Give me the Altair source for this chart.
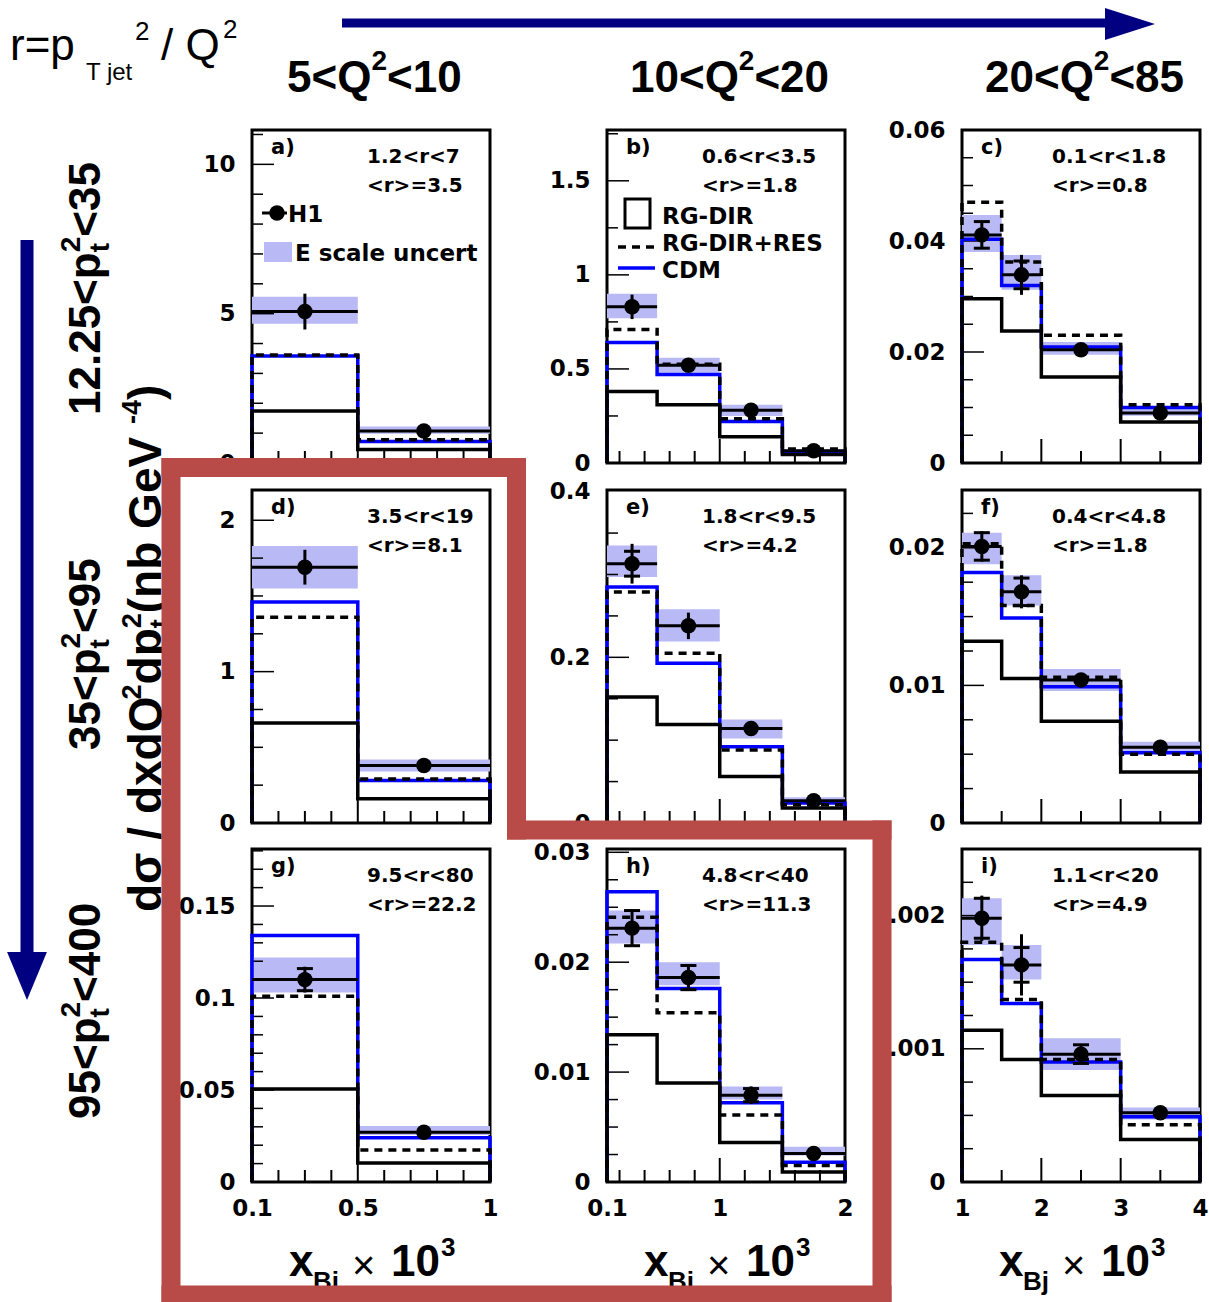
import altair as alt
import pandas as pd

# ------------------------------------------------------------------ data
# x_Bj x 10^3 bin edges, one list per Q^2 column
edges_q1 = [0.1, 0.5, 1.0]
edges_q2 = [0.1, 0.5, 1.0, 1.5, 2.0]
edges_q3 = [1.0, 1.5, 2.0, 3.0, 4.0]

# header / row texts
q2_lo = ["5", "10", "20"]
q2_hi = ["10", "20", "85"]
pt2_lo = ["12.25", "35", "95"]
pt2_hi = ["35", "95", "400"]
letters = ["a)", "b)", "c)", "d)", "e)", "f)", "g)", "h)", "i)"]
r_ranges = ["1.2<r<7", "0.6<r<3.5", "0.1<r<1.8", "3.5<r<19", "1.8<r<9.5",
            "0.4<r<4.8", "9.5<r<80", "4.8<r<40", "1.1<r<20"]
r_means = ["<r>=3.5", "<r>=1.8", "<r>=0.8", "<r>=8.1", "<r>=4.2",
           "<r>=1.8", "<r>=22.2", "<r>=11.3", "<r>=4.9"]

# panel a
a_h1 = [5.07, 1.07]
a_err = [0.60, 0.08]
a_stat = [0.0, 0.0]
a_blo = [4.66, 0.98]
a_bhi = [5.57, 1.22]
a_dir = [1.74, 0.45]
a_res = [3.62, 0.78]
a_cdm = [3.58, 0.72]
a_ylab = [0, 5, 10]
a_ymaj = [5, 10]
a_ymin = [1, 2, 3, 4, 6, 7, 8, 9, 11]
# panel b
b_h1 = [0.83, 0.52, 0.28, 0.065]
b_err = [0.065, 0.02, 0.02, 0.01]
b_stat = [0.0, 0.0, 0.0, 0.0]
b_blo = [0.77, 0.48, 0.25, 0.055]
b_bhi = [0.90, 0.56, 0.31, 0.075]
b_dir = [0.38, 0.31, 0.14, 0.045]
b_res = [0.71, 0.525, 0.235, 0.075]
b_cdm = [0.64, 0.47, 0.22, 0.058]
b_ylab = [0, 0.5, 1, 1.5]
b_ymaj = [0.5, 1, 1.5]
b_ymin = [0.25, 0.75, 1.25, 1.75]
# panel c
c_h1 = [0.0411, 0.0339, 0.0204, 0.0090]
c_err = [0.0024, 0.0036, 0.0005, 0.0005]
c_stat = [0.0024, 0.0025, 0.0, 0.0]
c_blo = [0.0380, 0.0312, 0.0195, 0.0085]
c_bhi = [0.0447, 0.0375, 0.0218, 0.0098]
c_dir = [0.0296, 0.0238, 0.0155, 0.0074]
c_res = [0.0470, 0.0362, 0.0230, 0.0105]
c_cdm = [0.0403, 0.0320, 0.0209, 0.0100]
c_ylab = [0, 0.02, 0.04, 0.06]
c_ymaj = [0.02, 0.04]
c_ymin = [0.005, 0.01, 0.015, 0.025, 0.03, 0.035, 0.045, 0.05, 0.055]
# panel d
d_h1 = [1.69, 0.38]
d_err = [0.115, 0.02]
d_stat = [0.0, 0.0]
d_blo = [1.55, 0.34]
d_bhi = [1.83, 0.42]
d_dir = [0.66, 0.16]
d_res = [1.36, 0.29]
d_cdm = [1.46, 0.28]
d_ylab = [0, 1, 2]
d_ymaj = [1, 2]
d_ymin = [0.25, 0.5, 0.75, 1.25, 1.5, 1.75]
# panel e
e_h1 = [0.313, 0.238, 0.114, 0.027]
e_err = [0.024, 0.016, 0.005, 0.003]
e_stat = [0.015, 0.0, 0.0, 0.0]
e_blo = [0.297, 0.219, 0.102, 0.024]
e_bhi = [0.335, 0.258, 0.125, 0.031]
e_dir = [0.152, 0.119, 0.056, 0.018]
e_res = [0.279, 0.205, 0.088, 0.022]
e_cdm = [0.285, 0.193, 0.092, 0.024]
e_ylab = [0, 0.2, 0.4]
e_ymaj = [0.2]
e_ymin = [0.05, 0.1, 0.15, 0.25, 0.3, 0.35]
# panel f
f_h1 = [0.0201, 0.0168, 0.0104, 0.0055]
f_err = [0.0011, 0.0012, 0.0003, 0.0002]
f_stat = [0.0010, 0.0010, 0.0, 0.0]
f_blo = [0.0188, 0.0158, 0.0096, 0.0051]
f_bhi = [0.0211, 0.0180, 0.0112, 0.0059]
f_dir = [0.0132, 0.0105, 0.0074, 0.0037]
f_res = [0.0203, 0.0158, 0.0106, 0.0050]
f_cdm = [0.0182, 0.0149, 0.0099, 0.0051]
f_ylab = [0, 0.01, 0.02]
f_ymaj = [0.01, 0.02]
f_ymin = [0.0025, 0.005, 0.0075, 0.0125, 0.015, 0.0175, 0.0225]
# panel g
g_h1 = [0.110, 0.027]
g_err = [0.0070, 0.002]
g_stat = [0.006, 0.0]
g_blo = [0.103, 0.0255]
g_bhi = [0.122, 0.0304]
g_dir = [0.0505, 0.0103]
g_res = [0.101, 0.0174]
g_cdm = [0.134, 0.024]
g_ylab = [0, 0.05, 0.1, 0.15]
g_ymaj = [0.05, 0.1, 0.15]
g_ymin = [0.01, 0.02, 0.03, 0.04, 0.06, 0.07, 0.08, 0.09, 0.11, 0.12, 0.13,
          0.14, 0.16, 0.17, 0.18]
# panel h
h_h1 = [0.0231, 0.0186, 0.0079, 0.0026]
h_err = [0.0017, 0.0012, 0.0008, 0.0003]
h_stat = [0.0016, 0.0011, 0.0006, 0.0]
h_blo = [0.0217, 0.0179, 0.0075, 0.0024]
h_bhi = [0.0247, 0.0200, 0.0087, 0.0032]
h_dir = [0.0134, 0.0090, 0.0036, 0.0009]
h_res = [0.0241, 0.0154, 0.0061, 0.0015]
h_cdm = [0.0264, 0.0176, 0.0072, 0.0018]
h_ylab = [0, 0.01, 0.02, 0.03]
h_ymaj = [0.01, 0.02, 0.03]
h_ymin = [0.0025, 0.005, 0.0075, 0.0125, 0.015, 0.0175, 0.0225, 0.025, 0.0275]
# panel i
i_h1 = [0.00198, 0.00163, 0.00096, 0.00052]
i_err = [0.00017, 0.00023, 0.00007, 0.00003]
i_stat = [0.00015, 0.00013, 0.00007, 0.0]
i_blo = [0.00178, 0.00152, 0.00084, 0.00047]
i_bhi = [0.00213, 0.00178, 0.00108, 0.00056]
i_dir = [0.00114, 0.00092, 0.00065, 0.00032]
i_res = [0.00180, 0.00137, 0.00092, 0.00043]
i_cdm = [0.00167, 0.00134, 0.00090, 0.00049]
i_ylab = [0, 0.001, 0.002]
i_ymaj = [0.001, 0.002]
i_ymin = [0.00025, 0.0005, 0.00075, 0.00125, 0.0015, 0.00175, 0.00225]

# y-axis upper limits per panel
y_max = [11.15, 1.77, 0.06, 2.2, 0.402, 0.0242, 0.181, 0.0303, 0.0025]

# x-axis labels and ticks per column
x_lab = [[0.1, 0.5, 1], [0.1, 1, 2], [1, 2, 3, 4]]
x_maj = [[0.5], [1.0], [2.0, 3.0]]
x_min = [[0.2, 0.3, 0.4, 0.6, 0.7, 0.8, 0.9],
         [0.2, 0.4, 0.6, 0.8, 1.2, 1.4, 1.6, 1.8],
         [1.5, 2.5, 3.5]]

# ------------------------------------------------------------------ style
LIB = "Liberation Sans"
DJV = "DejaVu Sans"
NAVY = "#000080"
LAV = "#b9b9f6"
BLUE = "#0000ff"
RED = "#b84a48"
W, H = 1209, 1302
PW, PH = 238, 333
COL_LEFT = [252, 607, 962]
ROW_TOP = [130, 490, 849]
TEXT_DX = [115, 95, 90]
ONE = pd.DataFrame({"d": [0]})

BOLD_W = {**{d: .556 for d in "0123456789"}, ".": .278, "<": .584, ">": .584,
          "=": .584, "+": .584, " ": .278, "/": .278, "(": .333, ")": .333,
          "-": .333, "a": .556, "b": .611, "d": .611, "e": .556, "n": .611,
          "p": .611, "t": .333, "x": .556, "j": .278, "r": .389, "B": .722,
          "G": .778, "Q": .778, "V": .667, "T": .611, "σ": .62, "×": .584}


def tw(s, size):
    return sum(BOLD_W.get(ch, .6) for ch in s) * size


def txt(s, x, y, size, weight="bold", font=LIB, angle=0, align="left",
        baseline="alphabetic", color="black"):
    return alt.Chart(ONE).mark_text(
        text=s, font=font, fontSize=size, fontWeight=weight, angle=angle,
        align=align, baseline=baseline, color=color
    ).encode(x=alt.value(x), y=alt.value(y))


def comp(pieces, x, y, vertical=False):
    out = []
    for s, size, shift, adv in pieces:
        if vertical:
            out.append(txt(s, x + shift, y, size, angle=270))
            if adv:
                y -= tw(s, size)
        else:
            out.append(txt(s, x, y + shift, size))
            if adv:
                x += tw(s, size)
    return out


def rule(x1, x2, y1, y2, color, width, dash=None, cap="butt"):
    kw = dict(color=color, strokeWidth=width, strokeCap=cap)
    if dash:
        kw["strokeDash"] = dash
    return alt.Chart(ONE).mark_rule(**kw).encode(
        x=alt.value(x1), x2=alt.value(x2), y=alt.value(y1), y2=alt.value(y2))


def step_df(edges, vals):
    xs, ys = [edges[0]], [0.0]
    for k, v in enumerate(vals):
        xs += [edges[k], edges[k + 1]]
        ys += [v, v]
    xs.append(edges[-1])
    ys.append(0.0)
    return pd.DataFrame({"x": xs, "y": ys, "k": list(range(len(xs)))})


PANELS = [
    dict(e=edges_q1, h1=a_h1, err=a_err, stat=a_stat, blo=a_blo, bhi=a_bhi, dir=a_dir, res=a_res, cdm=a_cdm, ylab=a_ylab, ymaj=a_ymaj, ymin=a_ymin),
    dict(e=edges_q2, h1=b_h1, err=b_err, stat=b_stat, blo=b_blo, bhi=b_bhi, dir=b_dir, res=b_res, cdm=b_cdm, ylab=b_ylab, ymaj=b_ymaj, ymin=b_ymin),
    dict(e=edges_q3, h1=c_h1, err=c_err, stat=c_stat, blo=c_blo, bhi=c_bhi, dir=c_dir, res=c_res, cdm=c_cdm, ylab=c_ylab, ymaj=c_ymaj, ymin=c_ymin),
    dict(e=edges_q1, h1=d_h1, err=d_err, stat=d_stat, blo=d_blo, bhi=d_bhi, dir=d_dir, res=d_res, cdm=d_cdm, ylab=d_ylab, ymaj=d_ymaj, ymin=d_ymin),
    dict(e=edges_q2, h1=e_h1, err=e_err, stat=e_stat, blo=e_blo, bhi=e_bhi, dir=e_dir, res=e_res, cdm=e_cdm, ylab=e_ylab, ymaj=e_ymaj, ymin=e_ymin),
    dict(e=edges_q3, h1=f_h1, err=f_err, stat=f_stat, blo=f_blo, bhi=f_bhi, dir=f_dir, res=f_res, cdm=f_cdm, ylab=f_ylab, ymaj=f_ymaj, ymin=f_ymin),
    dict(e=edges_q1, h1=g_h1, err=g_err, stat=g_stat, blo=g_blo, bhi=g_bhi, dir=g_dir, res=g_res, cdm=g_cdm, ylab=g_ylab, ymaj=g_ymaj, ymin=g_ymin),
    dict(e=edges_q2, h1=h_h1, err=h_err, stat=h_stat, blo=h_blo, bhi=h_bhi, dir=h_dir, res=h_res, cdm=h_cdm, ylab=h_ylab, ymaj=h_ymaj, ymin=h_ymin),
    dict(e=edges_q3, h1=i_h1, err=i_err, stat=i_stat, blo=i_blo, bhi=i_bhi, dir=i_dir, res=i_res, cdm=i_cdm, ylab=i_ylab, ymaj=i_ymaj, ymin=i_ymin),
]


def make_panel(idx, P):
    r, c = divmod(idx, 3)
    left, top = COL_LEFT[c], ROW_TOP[r]
    bottom = top + PH
    e = P["e"]
    ymax = y_max[idx]
    sx = alt.Scale(domain=[e[0], e[-1]], range=[left, left + PW], nice=False, zero=False)
    sy = alt.Scale(domain=[0, ymax], range=[bottom, top], nice=False, zero=False)
    yax = alt.Axis(orient="left", offset=-left, values=P["ylab"], format="~r",
                   ticks=False, domain=False, grid=False, labelFont=DJV,
                   labelFontWeight="bold", labelFontSize=23, labelColor="black",
                   labelPadding=17, labelOverlap=False, labelFlush=False, title=None)
    if r == 2:
        xax = alt.Axis(orient="bottom", offset=bottom - H, values=x_lab[c], format="~r",
                       ticks=False, domain=False, grid=False, labelFont=DJV,
                       labelFontWeight="bold", labelFontSize=23, labelColor="black",
                       labelPadding=15, labelOverlap=False, labelFlush=False, title=None)
    else:
        xax = None

    def X(f):
        return alt.X(f, type="quantitative", scale=sx, axis=xax)

    def Y(f):
        return alt.Y(f, type="quantitative", scale=sy, axis=yax)

    n = len(P["h1"])
    xc = [(e[k] + e[k + 1]) / 2 for k in range(n)]
    bins = pd.DataFrame({
        "x0": e[:-1], "x1": e[1:], "xc": xc, "h1": P["h1"],
        "lo": [v - d for v, d in zip(P["h1"], P["err"])],
        "hi": [v + d for v, d in zip(P["h1"], P["err"])],
        "blo": P["blo"], "bhi": P["bhi"]})
    cap_x, cap_y = [], []
    for k in range(n):
        if P["stat"][k] > 0:
            cap_x += [xc[k], xc[k]]
            cap_y += [P["h1"][k] - P["stat"][k], P["h1"][k] + P["stat"][k]]
    frame = pd.DataFrame({"fx0": [e[0]], "fx1": [e[-1]], "fy0": [0.0], "fy1": [ymax]})
    ymaj = pd.DataFrame({"tx": [e[0]] * len(P["ymaj"]), "ty": P["ymaj"]})
    ymin = pd.DataFrame({"tx": [e[0]] * len(P["ymin"]), "ty": P["ymin"]})
    xmaj = pd.DataFrame({"tx": x_maj[c], "ty": [0.0] * len(x_maj[c])})
    xmin = pd.DataFrame({"tx": x_min[c], "ty": [0.0] * len(x_min[c])})

    layers = [
        alt.Chart(frame).mark_rect(fillOpacity=0, stroke="black", strokeWidth=3).encode(
            x=X("fx0"), x2="fx1", y=Y("fy0"), y2="fy1"),
        alt.Chart(bins).mark_rect(color=LAV, opacity=1).encode(
            x=X("x0"), x2="x1", y=Y("blo"), y2="bhi"),
        alt.Chart(ymaj).mark_tick(orient="horizontal", size=22, thickness=1.5, xOffset=11,
                                  color="black", opacity=1).encode(x=X("tx"), y=Y("ty")),
        alt.Chart(ymin).mark_tick(orient="horizontal", size=11, thickness=1.5, xOffset=5.5,
                                  color="black", opacity=1).encode(x=X("tx"), y=Y("ty")),
        alt.Chart(xmaj).mark_tick(orient="vertical", size=24, thickness=2, yOffset=-12,
                                  color="black", opacity=1).encode(x=X("tx"), y=Y("ty")),
        alt.Chart(xmin).mark_tick(orient="vertical", size=12, thickness=2, yOffset=-6,
                                  color="black", opacity=1).encode(x=X("tx"), y=Y("ty")),
        alt.Chart(step_df(e, P["cdm"])).mark_line(color=BLUE, strokeWidth=3.5).encode(
            x=X("x"), y=Y("y"), order="k:Q"),
        alt.Chart(step_df(e, P["dir"])).mark_line(color="black", strokeWidth=3.5).encode(
            x=X("x"), y=Y("y"), order="k:Q"),
        alt.Chart(step_df(e, P["res"])).mark_line(color="black", strokeWidth=3.5,
                                                  strokeDash=[8, 6]).encode(
            x=X("x"), y=Y("y"), order="k:Q"),
        alt.Chart(bins).mark_rule(color="black", strokeWidth=3).encode(
            x=X("x0"), x2="x1", y=Y("h1")),
        alt.Chart(bins).mark_rule(color="black", strokeWidth=3).encode(
            x=X("xc"), y=Y("lo"), y2="hi"),
    ]
    if cap_x:
        caps = pd.DataFrame({"cx": cap_x, "cy": cap_y})
        layers.append(alt.Chart(caps).mark_tick(orient="horizontal", size=16, thickness=3,
                                                color="black", opacity=1).encode(
            x=X("cx"), y=Y("cy")))
    layers.append(alt.Chart(bins).mark_circle(color="black", size=240, opacity=1).encode(
        x=X("xc"), y=Y("h1")))
    return alt.layer(*layers)


panels = [make_panel(k, P) for k, P in enumerate(PANELS)]

# ------------------------------------------------------------------ decorations
decor = []
for k in range(9):
    r, c = divmod(k, 3)
    left, top = COL_LEFT[c], ROW_TOP[r]
    decor.append(txt(letters[k], left + 19, top + 24, 21, font=DJV))
    decor.append(txt(r_ranges[k], left + TEXT_DX[c], top + 33, 20, font=DJV))
    decor.append(txt(r_means[k], left + TEXT_DX[c], top + 62, 20, font=DJV))

# legend in panel a
decor += [
    rule(262, 287, 213, 213, "black", 3),
    alt.Chart(ONE).mark_circle(color="black", size=240, opacity=1).encode(
        x=alt.value(277), y=alt.value(213)),
    txt("H1", 288, 222, 23, font=DJV),
    alt.Chart(ONE).mark_rect(color=LAV, opacity=1).encode(
        x=alt.value(264), x2=alt.value(292), y=alt.value(242), y2=alt.value(262)),
    txt("E scale uncert", 295, 261, 23, font=DJV),
]
# legend in panel b
decor += [
    alt.Chart(ONE).mark_rect(fillOpacity=0, stroke="black", strokeWidth=3).encode(
        x=alt.value(625), x2=alt.value(650), y=alt.value(199), y2=alt.value(228)),
    txt("RG-DIR", 662, 224, 23, font=DJV),
    rule(618, 655, 247, 247, "black", 3.5, dash=[8, 6]),
    txt("RG-DIR+RES", 662, 251, 23, font=DJV),
    rule(618, 655, 268, 268, BLUE, 3.5),
    txt("CDM", 662, 278, 23, font=DJV),
]

# column headers
for c, xs in enumerate([287, 630, 985]):
    decor += comp([(q2_lo[c] + "<Q", 44, 0, True), ("2", 28, -22, True),
                   ("<" + q2_hi[c], 44, 0, True)], xs, 92)

# row labels (rotated)
for r, ys in enumerate([415, 750, 1119]):
    decor += comp([(pt2_lo[r] + "<p", 44, 0, True), ("t", 28, 9, False),
                   ("2", 28, -20, True), ("<" + pt2_hi[r], 44, 0, True)],
                  100, ys, vertical=True)

# y-axis title (rotated)
decor += comp([("dσ / dxdQ", 46, 0, True), ("2", 27, -20, True), ("dp", 46, 0, True),
               ("t", 27, 8, False), ("2", 27, -20, True), (" (nb GeV", 46, 0, True),
               ("-4", 27, -20, True), (")", 46, 0, True)], 161, 912, vertical=True)

# r definition
decor += [
    txt("r=p", 10, 60, 44, weight="normal"),
    txt("T jet", 86, 80, 24, weight="normal"),
    txt("2", 135, 40, 26, weight="normal"),
    txt("/ Q", 161, 60, 44, weight="normal"),
    txt("2", 223, 38, 26, weight="normal"),
]

# x-axis titles
for c in range(3):
    left = COL_LEFT[c]
    decor += [
        txt("x", left + 37, 1276, 44),
        txt("Bj", left + 61, 1290, 26),
        txt("×", left + 100, 1279, 40, weight="normal"),
        txt("10", left + 139, 1276, 44),
        txt("3", left + 189, 1256, 26),
    ]

# arrows
decor += [
    rule(342, 1112, 23, 23, NAVY, 9),
    alt.Chart(ONE).mark_point(shape="M-1,-0.64L1,0L-1,0.64Z", size=2500, filled=True,
                              color=NAVY, opacity=1, strokeWidth=0).encode(
        x=alt.value(1130), y=alt.value(24)),
    rule(27, 27, 240, 955, NAVY, 13),
    alt.Chart(ONE).mark_point(shape="M-0.83,-1L0.83,-1L0,1Z", size=2304, filled=True,
                              color=NAVY, opacity=1, strokeWidth=0).encode(
        x=alt.value(27), y=alt.value(976)),
]

# red highlight outline
decor += [
    rule(171, 516.5, 467.5, 467.5, RED, 19, cap="square"),
    rule(516.5, 516.5, 467.5, 830, RED, 19, cap="square"),
    rule(516.5, 882, 830, 830, RED, 19, cap="square"),
    rule(882, 882, 830, 1295, RED, 19, cap="square"),
    rule(171, 882, 1295, 1295, RED, 19, cap="square"),
    rule(171, 171, 467.5, 1295, RED, 19, cap="square"),
]

chart = alt.layer(*panels, *decor).resolve_scale(
    x="independent", y="independent"
).properties(
    width=W, height=H, padding=0, background="white",
    autosize=alt.AutoSizeParams(type="none"),
).configure_view(stroke=None)

chart.save("out.html", embed_options={"renderer": "svg", "actions": False})
